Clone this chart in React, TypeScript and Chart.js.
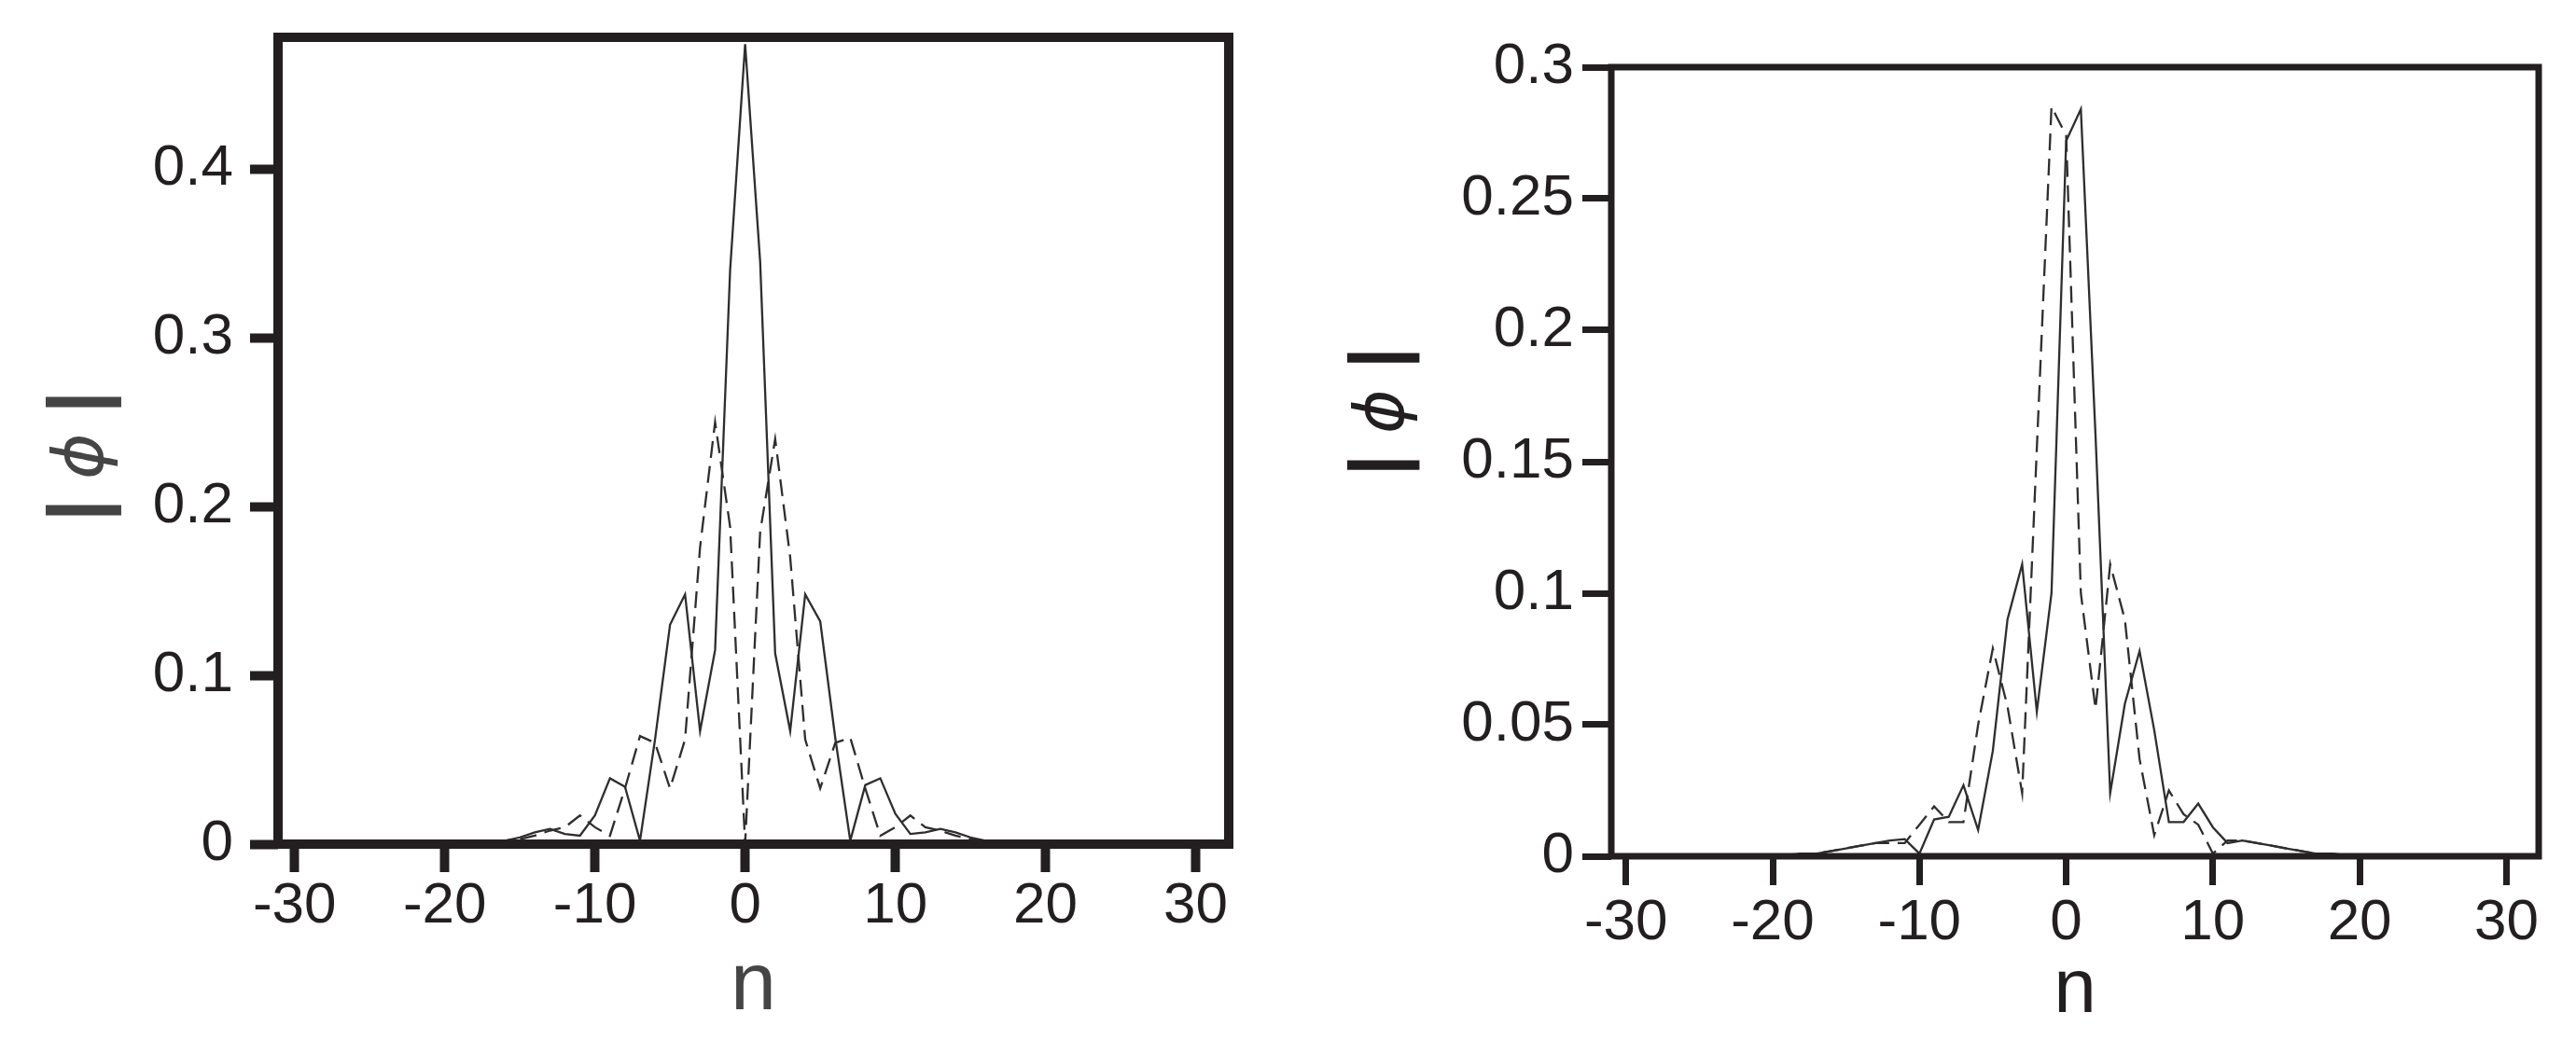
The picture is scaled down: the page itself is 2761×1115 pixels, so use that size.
import React, { useEffect, useRef } from "react";
import { Chart, registerables } from "chart.js";

Chart.register(...registerables);

// ---------- data ----------
const nValues = [
  -20, -19, -18, -17, -16, -15, -14, -13, -12, -11, -10, -9, -8, -7, -6, -5, -4, -3, -2, -1, 0,
  1, 2, 3, 4, 5, 6, 7, 8, 9, 10, 11, 12, 13, 14, 15, 16, 17, 18, 19, 20,
];

const leftSolid = [
  0, 0.0005, 0.001, 0.001, 0.002, 0.004, 0.007, 0.009, 0.006, 0.005, 0.017, 0.039, 0.034, 0.002, 0.062, 0.13, 0.148, 0.067, 0.115, 0.34, 0.474,
  0.345, 0.113, 0.067, 0.148, 0.132, 0.063, 0.002, 0.035, 0.039, 0.018, 0.006, 0.007, 0.009, 0.007, 0.004, 0.002, 0.001, 0.001, 0.0005, 0,
];

const leftDashed = [
  0, 0.0005, 0.001, 0.001, 0.002, 0.003, 0.005, 0.008, 0.01, 0.017, 0.01, 0.005, 0.033, 0.064, 0.06, 0.033, 0.062, 0.176, 0.25, 0.188, 0,
  0.185, 0.24, 0.17, 0.062, 0.033, 0.06, 0.063, 0.033, 0.005, 0.01, 0.017, 0.01, 0.008, 0.005, 0.003, 0.002, 0.001, 0.001, 0.0005, 0,
];

const rightSolid = [
  0, 0.0005, 0.001, 0.001, 0.002, 0.003, 0.004, 0.005, 0.006, 0.0065, 0.001, 0.014, 0.015, 0.027, 0.01, 0.04, 0.09, 0.111, 0.055, 0.1, 0.272,
  0.284, 0.16, 0.024, 0.058, 0.078, 0.048, 0.013, 0.013, 0.02, 0.011, 0.005, 0.006, 0.005, 0.004, 0.003, 0.002, 0.001, 0.001, 0.0005, 0,
];

const rightDashed = [
  0, 0.0005, 0.001, 0.001, 0.002, 0.003, 0.004, 0.005, 0.005, 0.005, 0.012, 0.019, 0.013, 0.013, 0.05, 0.079, 0.057, 0.024, 0.155, 0.285, 0.274,
  0.1, 0.056, 0.111, 0.09, 0.037, 0.008, 0.025, 0.016, 0.012, 0.001, 0.006, 0.006, 0.005, 0.004, 0.003, 0.002, 0.001, 0.001, 0.0005, 0,
];

const xTickValues = [-30, -20, -10, 0, 10, 20, 30];
const leftYTickValues = [0, 0.1, 0.2, 0.3, 0.4];
const rightYTickValues = [0, 0.05, 0.1, 0.15, 0.2, 0.25, 0.3];

const xAxisTitle = "n";
const yAxisTitleParts = ["|", "\u03D5", "|"];

// ---------- plugins ----------
const framePlugin = {
  id: "frame",
  afterDatasetsDraw(chart: any, _args: any, opts: any) {
    const { ctx, chartArea: a } = chart;
    ctx.save();
    ctx.strokeStyle = opts.color;
    ctx.lineWidth = opts.width;
    ctx.lineJoin = "miter";
    ctx.strokeRect(a.left, a.top, a.right - a.left, a.bottom - a.top);
    ctx.restore();
  },
};

const titlesPlugin = {
  id: "axisTitles",
  afterDraw(chart: any, _args: any, opts: any) {
    const { ctx, chartArea: a } = chart;
    ctx.save();
    // x title
    ctx.font = opts.xFont;
    ctx.fillStyle = opts.color;
    ctx.textAlign = "center";
    ctx.textBaseline = "alphabetic";
    ctx.fillText(opts.xText, (a.left + a.right) / 2 + opts.xShift, a.bottom + opts.xBaseline);

    // y title (rotated, reads bottom to top)
    ctx.translate(opts.yCx, opts.yCy);
    ctx.rotate(-Math.PI / 2);
    ctx.textAlign = "left";
    ctx.textBaseline = "alphabetic";
    const items = opts.yParts.map((p: any) => {
      ctx.font = `${p.style} 100px ${p.family}`;
      const m0 = ctx.measureText(p.text);
      const h0 = m0.actualBoundingBoxAscent + m0.actualBoundingBoxDescent;
      const size = (100 * p.inkHeight) / h0;
      const font = `${p.style} ${size}px ${p.family}`;
      ctx.font = font;
      const m = ctx.measureText(p.text);
      return {
        text: p.text,
        font,
        left: m.actualBoundingBoxLeft,
        width: m.actualBoundingBoxLeft + m.actualBoundingBoxRight,
        asc: m.actualBoundingBoxAscent,
        desc: m.actualBoundingBoxDescent,
      };
    });
    const total = items.reduce((s: number, it: any) => s + it.width, 0) + opts.yGap * (items.length - 1);
    let cursor = -total / 2;
    items.forEach((it: any) => {
      ctx.font = it.font;
      ctx.fillText(it.text, cursor + it.left, (it.asc - it.desc) / 2);
      cursor += it.width + opts.yGap;
    });
    ctx.restore();
  },
};

// ---------- chart factory ----------
type PanelCfg = {
  solid: number[];
  dashed: number[];
  xMin: number;
  xMax: number;
  yMax: number;
  yTicks: number[];
  yAxisWidth: number;
  xAxisHeight: number;
  padTop: number;
  padRight: number;
  frameWidth: number;
  tickLen: number;
  yLabelPad: number;
  xLabelPad: number;
  titleColor: string;
  xFontSize: number;
  xBaseline: number;
  yCx: number;
  yCy: number;
  barInk: number;
  phiInk: number;
  yGap: number;
};

const INK = "#231f20";

function makeChart(canvas: HTMLCanvasElement, c: PanelCfg) {
  const pts = (arr: number[]) => nValues.map((n, i) => ({ x: n, y: arr[i] }));
  const tickFont = { family: "'Liberation Sans', Arial, sans-serif", size: 62 };
  return new Chart(canvas, {
    type: "line",
    data: {
      datasets: [
        {
          data: pts(c.solid),
          borderColor: "#2e2e2e",
          borderWidth: 2.3,
          pointRadius: 0,
          tension: 0,
          fill: false,
        },
        {
          data: pts(c.dashed),
          borderColor: "#2e2e2e",
          borderWidth: 2.3,
          borderDash: [18, 9],
          pointRadius: 0,
          tension: 0,
          fill: false,
        },
      ],
    },
    options: {
      animation: false,
      responsive: true,
      maintainAspectRatio: false,
      devicePixelRatio: 1,
      layout: { padding: { top: c.padTop, right: c.padRight, left: 0, bottom: 0 } },
      plugins: {
        legend: { display: false },
        tooltip: { enabled: false },
        frame: { color: INK, width: c.frameWidth },
        axisTitles: {
          color: c.titleColor,
          xText: xAxisTitle,
          xFont: `${c.xFontSize}px 'Liberation Sans', Arial, sans-serif`,
          xShift: 0,
          xBaseline: c.xBaseline,
          yCx: c.yCx,
          yCy: c.yCy,
          yGap: c.yGap,
          yParts: [
            { text: yAxisTitleParts[0], style: "bold", family: "'Liberation Sans'", inkHeight: c.barInk },
            { text: yAxisTitleParts[1], style: "italic", family: "'DejaVu Sans'", inkHeight: c.phiInk },
            { text: yAxisTitleParts[2], style: "bold", family: "'Liberation Sans'", inkHeight: c.barInk },
          ],
        },
      } as any,
      scales: {
        x: {
          type: "linear",
          min: c.xMin,
          max: c.xMax,
          afterBuildTicks: (s: any) => {
            s.ticks = xTickValues.map((v) => ({ value: v }));
          },
          afterFit: (s: any) => {
            s.height = c.xAxisHeight;
            s.paddingLeft = 0;
            s.paddingRight = 0;
            s.paddingTop = 0;
            s.paddingBottom = 0;
          },
          grid: {
            display: true,
            drawOnChartArea: false,
            drawTicks: true,
            tickLength: c.tickLen,
            tickWidth: c.frameWidth,
            tickColor: INK,
          },
          border: { display: false },
          ticks: {
            font: tickFont,
            color: INK,
            padding: c.xLabelPad,
            maxRotation: 0,
            minRotation: 0,
            autoSkip: false,
            callback: (v: any) => String(v),
          },
        },
        y: {
          type: "linear",
          min: 0,
          max: c.yMax,
          afterBuildTicks: (s: any) => {
            s.ticks = c.yTicks.map((v) => ({ value: v }));
          },
          afterFit: (s: any) => {
            s.width = c.yAxisWidth;
            s.paddingLeft = 0;
            s.paddingRight = 0;
            s.paddingTop = 0;
            s.paddingBottom = 0;
          },
          grid: {
            display: true,
            drawOnChartArea: false,
            drawTicks: true,
            tickLength: c.tickLen,
            tickWidth: c.frameWidth,
            tickColor: INK,
          },
          border: { display: false },
          ticks: {
            font: tickFont,
            color: INK,
            padding: c.yLabelPad,
            autoSkip: false,
            callback: (v: any) => String(v),
          },
        },
      },
    } as any,
    plugins: [framePlugin, titlesPlugin] as any,
  });
}

function Panel({ cfg, left, width }: { cfg: PanelCfg; left: number; width: number }) {
  const ref = useRef<HTMLCanvasElement | null>(null);
  useEffect(() => {
    if (!ref.current) return;
    const chart = makeChart(ref.current, cfg);
    return () => chart.destroy();
  }, []);
  return (
    <div style={{ position: "absolute", left, top: 0, width, height: 1115 }}>
      <canvas ref={ref} />
    </div>
  );
}

const leftCfg: PanelCfg = {
  solid: leftSolid,
  dashed: leftDashed,
  xMin: -31.1,
  xMax: 32.2,
  yMax: 0.478,
  yTicks: leftYTickValues,
  yAxisWidth: 298,
  xAxisHeight: 210,
  padTop: 40,
  padRight: 63,
  frameWidth: 10,
  tickLen: 30,
  yLabelPad: 18,
  xLabelPad: 0,
  titleColor: "#454545",
  xFontSize: 88,
  xBaseline: 177,
  yCx: 89,
  yCy: 489,
  barInk: 82,
  phiInk: 73,
  yGap: 29,
};

const rightCfg: PanelCfg = {
  solid: rightSolid,
  dashed: rightDashed,
  xMin: -31.0,
  xMax: 32.2,
  yMax: 0.3,
  yTicks: rightYTickValues,
  yAxisWidth: 347,
  xAxisHeight: 197,
  padTop: 72,
  padRight: 40,
  frameWidth: 7,
  tickLen: 31,
  yLabelPad: 9,
  xLabelPad: 4,
  titleColor: INK,
  xFontSize: 82,
  xBaseline: 167,
  yCx: 103,
  yCy: 441,
  barInk: 78,
  phiInk: 70,
  yGap: 30,
};

export default function App() {
  return (
    <div
      style={{
        position: "absolute",
        left: 0,
        top: 0,
        width: 2761,
        height: 1115,
        background: "#ffffff",
        overflow: "hidden",
      }}
    >
      <Panel cfg={leftCfg} left={0} width={1380} />
      <Panel cfg={rightCfg} left={1380} width={1381} />
    </div>
  );
}
